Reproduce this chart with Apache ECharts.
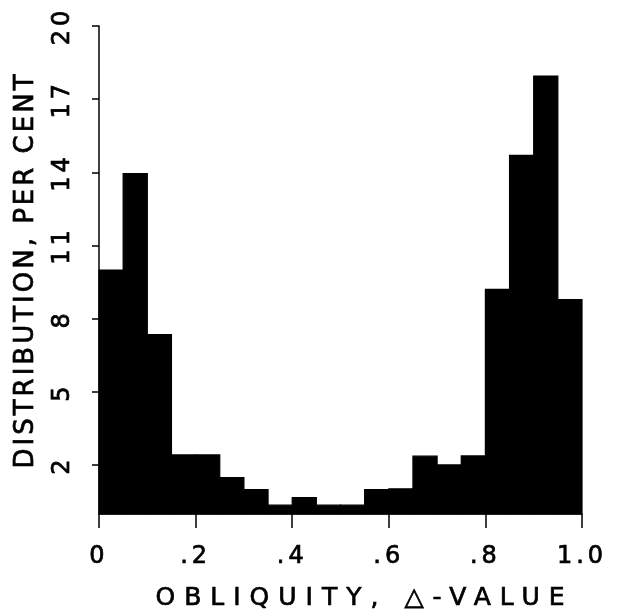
<!DOCTYPE html>
<html>
<head>
<meta charset="utf-8">
<script src="https://cdn.jsdelivr.net/npm/echarts@6/dist/echarts.min.js"></script>
<style>
html,body{margin:0;padding:0;background:#fff;}
#chart{width:621px;height:610px;}
</style>
</head>
<body>
<div id="chart"></div>
<script>
// Histogram bin edges (obliquity, Δ-value)
const binEdges = [0, 0.05, 0.10, 0.15, 0.20, 0.25, 0.30, 0.35, 0.40, 0.45, 0.50,
                  0.55, 0.60, 0.65, 0.70, 0.75, 0.80, 0.85, 0.90, 0.95, 1.00];
// Distribution, per cent, for each bin
const distValues = [10.0, 13.95, 7.35, 2.42, 2.42, 1.49, 1.0, 0.36, 0.67, 0.36,
                    0.36, 1.0, 1.03, 2.37, 2.01, 2.38, 9.21, 14.7, 17.95, 8.79];
const xTickLabels = ['0', '.2', '.4', '.6', '.8', '1.0'];
const yTickValues = [2, 5, 8, 11, 14, 17, 20];
const xAxisName = 'OBLIQUITY, \u25B3-VALUE';
const yAxisName = 'DISTRIBUTION, PER CENT';

// letter spacing for the wide-set lettering of the original figure
const spacingBySize = {'24': '4px', '26': '3px', '25': '9px'};
const origFill = CanvasRenderingContext2D.prototype.fillText;
const origStroke = CanvasRenderingContext2D.prototype.strokeText;
function applySpacing(ctx) {
  const mm = /(\d+)px/.exec(ctx.font);
  ctx.letterSpacing = (mm && spacingBySize[mm[1]]) || '0px';
}
CanvasRenderingContext2D.prototype.fillText = function (t, x, y, m) {
  applySpacing(this);
  return m === undefined ? origFill.call(this, t, x, y) : origFill.call(this, t, x, y, m);
};
CanvasRenderingContext2D.prototype.strokeText = function (t, x, y, m) {
  applySpacing(this);
  return m === undefined ? origStroke.call(this, t, x, y) : origStroke.call(this, t, x, y, m);
};

const data = distValues.map((v, i) => [binEdges[i], binEdges[i + 1], v]);
const FONT = 'DejaVu Sans';
const textInk = {color: '#000', textBorderColor: '#000', textBorderWidth: 0.7};

const chart = echarts.init(document.getElementById('chart'), null, {renderer: 'canvas'});
chart.setOption({
  animation: false,
  backgroundColor: '#fff',
  grid: {left: 99, right: 39, top: 26, bottom: 96, containLabel: false, outerBoundsMode: 'none'},
  xAxis: {
    type: 'value', min: 0, max: 1, interval: 0.2,
    name: xAxisName, nameLocation: 'middle', nameGap: 72,
    nameTextStyle: Object.assign({fontFamily: FONT, fontSize: 25, padding: [0, 0, 0, 48]}, textInk),
    axisLine: {show: true, lineStyle: {color: '#000', width: 1.5}},
    axisTick: {show: true, length: 14, inside: false, lineStyle: {color: '#000', width: 1.5}},
    axisLabel: Object.assign({
      margin: 31, fontFamily: FONT, fontSize: 24,
      formatter: (v, idx) => xTickLabels[idx]
    }, textInk),
    splitLine: {show: false}
  },
  yAxis: {
    type: 'value', min: 0, max: 20,
    name: yAxisName, nameLocation: 'middle', nameGap: 60, nameRotate: 90,
    nameTextStyle: Object.assign({fontFamily: FONT, fontSize: 26}, textInk),
    axisLine: {show: true, lineStyle: {color: '#000', width: 1.5}},
    axisTick: {show: true, length: 7, inside: false, customValues: yTickValues,
               lineStyle: {color: '#000', width: 1.5}},
    axisLabel: Object.assign({
      customValues: yTickValues, rotate: 90, margin: 24,
      fontFamily: FONT, fontSize: 24
    }, textInk),
    splitLine: {show: false}
  },
  series: [{
    type: 'custom',
    encode: {x: [0, 1], y: 2},
    data: data,
    renderItem: function (params, api) {
      const x0 = api.value(0), x1 = api.value(1), v = api.value(2);
      const pTop = api.coord([x0, v]);
      const pBot = api.coord([x1, 0]);
      return {
        type: 'rect',
        shape: {x: pTop[0], y: pTop[1], width: pBot[0] - pTop[0], height: pBot[1] - pTop[1]},
        style: {fill: '#000', stroke: '#000', lineWidth: 1.2}
      };
    }
  }]
});
</script>
</body>
</html>
